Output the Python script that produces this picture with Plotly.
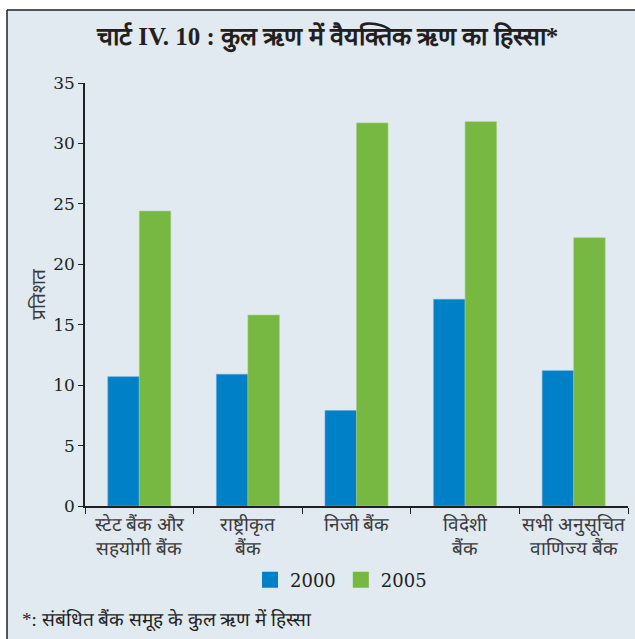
import plotly.graph_objects as go

categories = ["स्टेट बैंक और<br>सहयोगी बैंक", "राष्ट्रीकृत<br>बैंक", "निजी बैंक", "विदेशी<br>बैंक", "सभी अनुसूचित<br>वाणिज्य बैंक"]
series_names = ["2000", "2005"]
values_2000 = [10.7, 10.9, 7.9, 17.1, 11.2]
values_2005 = [24.4, 15.8, 31.7, 31.8, 22.2]
y_ticks = [0, 5, 10, 15, 20, 25, 30, 35]

BG = "#e1e9f1"
BLUE = "#0080c6"
GREEN = "#77b843"
SERIF = "Liberation Serif, DejaVu Serif, serif"
NUM = "DejaVu Serif, serif"

fig = go.Figure()
fig.add_trace(go.Bar(x=categories, y=values_2000, name=series_names[0], showlegend=False,
                     marker=dict(color=BLUE, line=dict(color="#5aa9dc", width=0.6))))
fig.add_trace(go.Bar(x=categories, y=values_2005, name=series_names[1], showlegend=False,
                     marker=dict(color=GREEN, line=dict(color="#a3d07c", width=0.6))))
for nm, col in zip(series_names, [BLUE, GREEN]):
    fig.add_trace(go.Scatter(x=[categories[0]], y=[None], mode="markers", name=nm,
                             marker=dict(symbol="square", size=18, color=col)))

W, H = 635, 639
fig.update_layout(
    width=W, height=H,
    paper_bgcolor="white", plot_bgcolor=BG,
    margin=dict(l=85, r=7, t=83, b=133),
    barmode="group", bargap=0.42, bargroupgap=0,
    font=dict(family=SERIF, color="#231f20", size=17),
    showlegend=True,
    legend=dict(orientation="h", x=(250-85)/543, xanchor="left", y=-(580-506)/423, yanchor="middle",
                font=dict(size=18, family=NUM), bgcolor="rgba(0,0,0,0)",
                itemsizing="trace", itemwidth=30, traceorder="normal"),
    xaxis=dict(showline=True, linecolor="#231f20", linewidth=1.5,
               ticks="outside", ticklen=6, tickcolor="#231f20", tickangle=0,
               tickson="boundaries", tickfont=dict(size=19, color="#3a3a3a")),
    yaxis=dict(range=[0, 35], tickvals=y_ticks, showline=True, linecolor="#231f20",
               linewidth=1.5, ticks="outside", ticklen=5, tickcolor="#231f20",
               showgrid=False, zeroline=False, tickfont=dict(size=17, family=NUM),
               title=dict(text="प्रतिशत", font=dict(size=19, color="#3a3a3a"), standoff=3)),
    shapes=[
        dict(type="rect", xref="paper", yref="paper",
             x0=-78/543, x1=1 + 7/543, y0=-133/423, y1=1 + 73/423,
             fillcolor=BG, line=dict(width=0), layer="below"),
        dict(type="line", xref="paper", yref="paper",
             x0=-78/543, x1=-78/543, y0=-133/423, y1=1 + 73/423,
             line=dict(color="#231f20", width=1.5)),
        dict(type="line", xref="paper", yref="paper",
             x0=-78/543, x1=1 + 7/543, y0=1 + 73/423, y1=1 + 73/423,
             line=dict(color="#231f20", width=1.5)),
    ],
    annotations=[
        dict(text="<b>चार्ट IV. 10 : कुल ऋण में वैयक्तिक ऋण का हिस्सा*</b>",
             xref="paper", yref="paper", x=(327-85)/543, y=1 + 45/423,
             xanchor="center", yanchor="middle", showarrow=False,
             font=dict(size=25, color="#231f20")),
        dict(text="*: संबंधित बैंक समूह के कुल ऋण में हिस्सा",
             xref="paper", yref="paper", x=(20-85)/543, y=-(620-506)/423,
             xanchor="left", yanchor="middle", showarrow=False,
             font=dict(size=19, color="#231f20")),
    ],
)

fig.write_html("out.html")
